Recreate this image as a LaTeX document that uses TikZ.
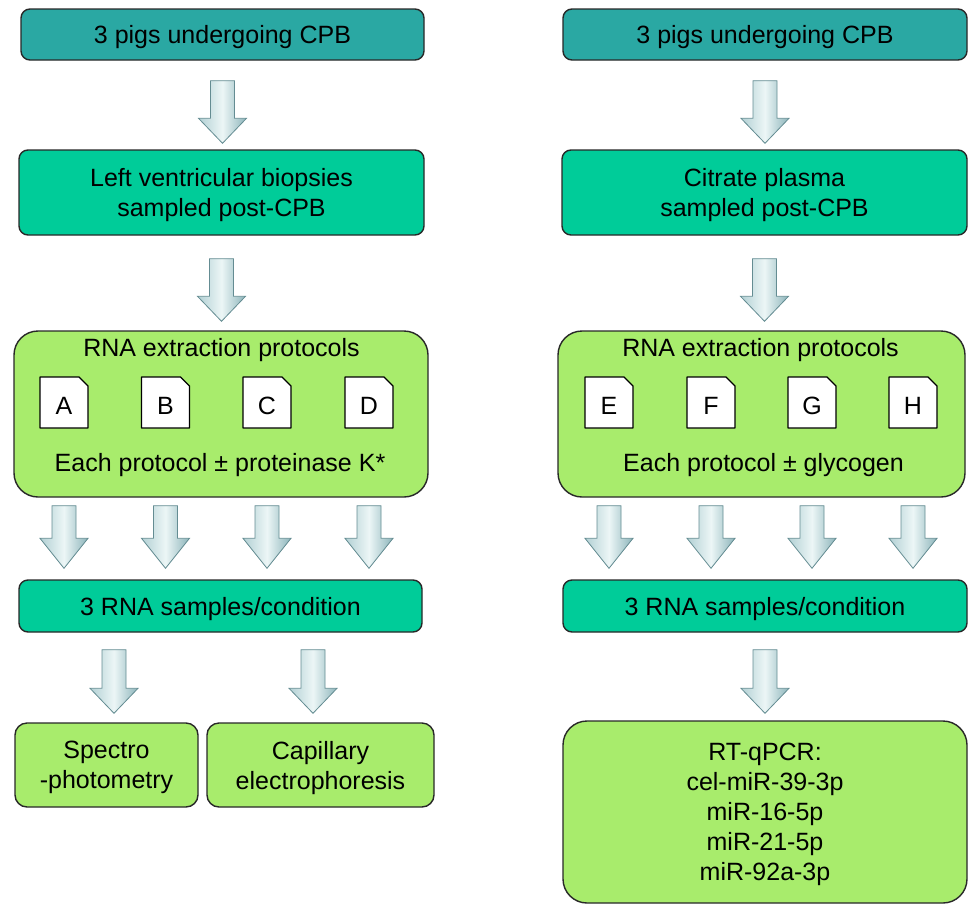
\documentclass[tikz,border=0pt]{standalone}
\usepackage{fontspec}
\setmainfont{Liberation Sans}
\usetikzlibrary{calc}
\definecolor{tealtop}{RGB}{42,168,163}
\definecolor{greenbox}{RGB}{0,204,153}
\definecolor{limebox}{RGB}{168,236,108}
\definecolor{edgecol}{RGB}{40,40,40}
\definecolor{arrL}{RGB}{178,208,212}
\definecolor{arrM}{RGB}{236,246,246}
\definecolor{arrR}{RGB}{140,180,186}
\definecolor{arrEdge}{RGB}{100,140,146}
\tikzset{
  box/.style={draw=edgecol, line width=1.4pt, text=black, align=center, inner sep=0pt,
    font=\fontsize{25}{30}\selectfont},
  toptier/.style={box, fill=tealtop, rounded corners=9pt, text depth=0.6pt},
  midtier/.style={box, fill=greenbox, rounded corners=9pt, text depth=-2.5pt},
  bigtier/.style={box, fill=limebox, rounded corners=24pt, text depth=-3.75pt},
  smalltier/.style={box, fill=limebox, rounded corners=12pt, text depth=-2.75pt},
  txt/.style={font=\fontsize{25}{30}\selectfont, inner sep=0pt, text=black},
  docshape/.style={draw=black, line width=1.3pt, fill=white, line join=round},
  barrow/.style={draw=arrEdge, line width=0.8pt, left color=arrL, right color=arrR, middle color=arrM}
}
% #1 x reference, #2 upper anchor, #3 lower anchor, #4 top gap, #5 bottom gap, #6 head length
\newcommand\blockarr[6]{%
  \path[barrow] let \p1=(#1), \p2=(#2), \p3=(#3) in
    ({\x1-12pt},{\y2-#4}) -- ({\x1+12pt},{\y2-#4}) -- ({\x1+12pt},{\y3+#5+#6}) --
    ({\x1+24pt},{\y3+#5+#6}) -- (\x1,{\y3+#5}) -- ({\x1-24pt},{\y3+#5+#6}) --
    ({\x1-12pt},{\y3+#5+#6}) -- cycle;}
% #1 name, #2 position, #3 letter
\newcommand\docicon[3]{%
  \coordinate (c#1) at #2;
  \draw[docshape] ($(c#1)+(-24,-25.5)$) -- ($(c#1)+(15,-25.5)$) -- ($(c#1)+(24,-16.5)$)
     -- ($(c#1)+(24,25.5)$) -- ($(c#1)+(-24,25.5)$) -- cycle;
  \node[txt] (#1) at ($(c#1)+(0,3)$) {#3};}
\begin{document}
\begin{tikzpicture}[x=1pt,y=-1pt]
\useasboundingbox (0,0) rectangle (969,905);
% ---------------- left column ----------------
\node[toptier, minimum width=403, minimum height=51] (topL) at (222.5,34.5) {3 pigs undergoing CPB};
\node[midtier, minimum width=405, minimum height=85] (bioL) at (221.5,192.5) {Left ventricular biopsies\\sampled post-CPB};
\node[bigtier, minimum width=414, minimum height=166, text depth=0pt] (rnaL) at (221,414) {};
\node[txt] (titL) at (221.5,350) {RNA extraction protocols};
\docicon{docA}{(64,402.5)}{A}
\docicon{docB}{(165.5,402.5)}{B}
\docicon{docC}{(267,402.5)}{C}
\docicon{docD}{(369,402.5)}{D}
\node[txt] (eachL) at (220,465) {Each protocol ± proteinase K*};
\node[midtier, minimum width=403, minimum height=52] (samL) at (220.5,606) {3 RNA samples/condition};
\node[smalltier, minimum width=183, minimum height=84] (spec) at (106.5,765) {Spectro\\-photometry};
\node[smalltier, minimum width=227, minimum height=84] (capi) at (320.5,765) {Capillary\\electrophoresis};
% ---------------- right column ----------------
\node[toptier, minimum width=404, minimum height=51] (topR) at (765,34.5) {3 pigs undergoing CPB};
\node[midtier, minimum width=405, minimum height=85] (plaR) at (764.5,192.5) {Citrate plasma\\sampled post-CPB};
\node[bigtier, minimum width=407, minimum height=166, text depth=0pt] (rnaR) at (761.5,414) {};
\node[txt] (titR) at (760.5,350) {RNA extraction protocols};
\docicon{docE}{(609,402.5)}{E}
\docicon{docF}{(711,402.5)}{F}
\docicon{docG}{(812,402.5)}{G}
\docicon{docH}{(913,402.5)}{H}
\node[txt] (eachR) at (763.5,465) {Each protocol ± glycogen};
\node[midtier, minimum width=404, minimum height=52] (samR) at (765,606) {3 RNA samples/condition};
\node[bigtier, minimum width=404, minimum height=182] (rtq) at (765,812) {RT-qPCR:\\cel-miR-39-3p\\miR-16-5p\\miR-21-5p\\miR-92a-3p};
% ---------------- arrows ----------------
\blockarr{topL.south}{topL.south}{bioL.north}{20pt}{6pt}{25pt}
\blockarr{bioL.south}{bioL.south}{rnaL.north}{23pt}{9pt}{25pt}
\blockarr{docA}{rnaL.south}{samL.north}{8pt}{11pt}{30pt}
\blockarr{docB}{rnaL.south}{samL.north}{8pt}{11pt}{30pt}
\blockarr{docC}{rnaL.south}{samL.north}{8pt}{11pt}{30pt}
\blockarr{docD}{rnaL.south}{samL.north}{8pt}{11pt}{30pt}
\blockarr{$(spec.north)+(7.5,0)$}{samL.south}{spec.north}{17pt}{9pt}{25pt}
\blockarr{$(capi.north)+(-7.5,0)$}{samL.south}{capi.north}{17pt}{9pt}{25pt}
\blockarr{topR.south}{topR.south}{plaR.north}{20pt}{6pt}{25pt}
\blockarr{plaR.south}{plaR.south}{rnaR.north}{23pt}{9pt}{25pt}
\blockarr{docE}{rnaR.south}{samR.north}{8pt}{11pt}{30pt}
\blockarr{docF}{rnaR.south}{samR.north}{8pt}{11pt}{30pt}
\blockarr{docG}{rnaR.south}{samR.north}{8pt}{11pt}{30pt}
\blockarr{docH}{rnaR.south}{samR.north}{8pt}{11pt}{30pt}
\blockarr{samR.south}{samR.south}{rtq.north}{17pt}{7pt}{25pt}
\end{tikzpicture}
\end{document}
